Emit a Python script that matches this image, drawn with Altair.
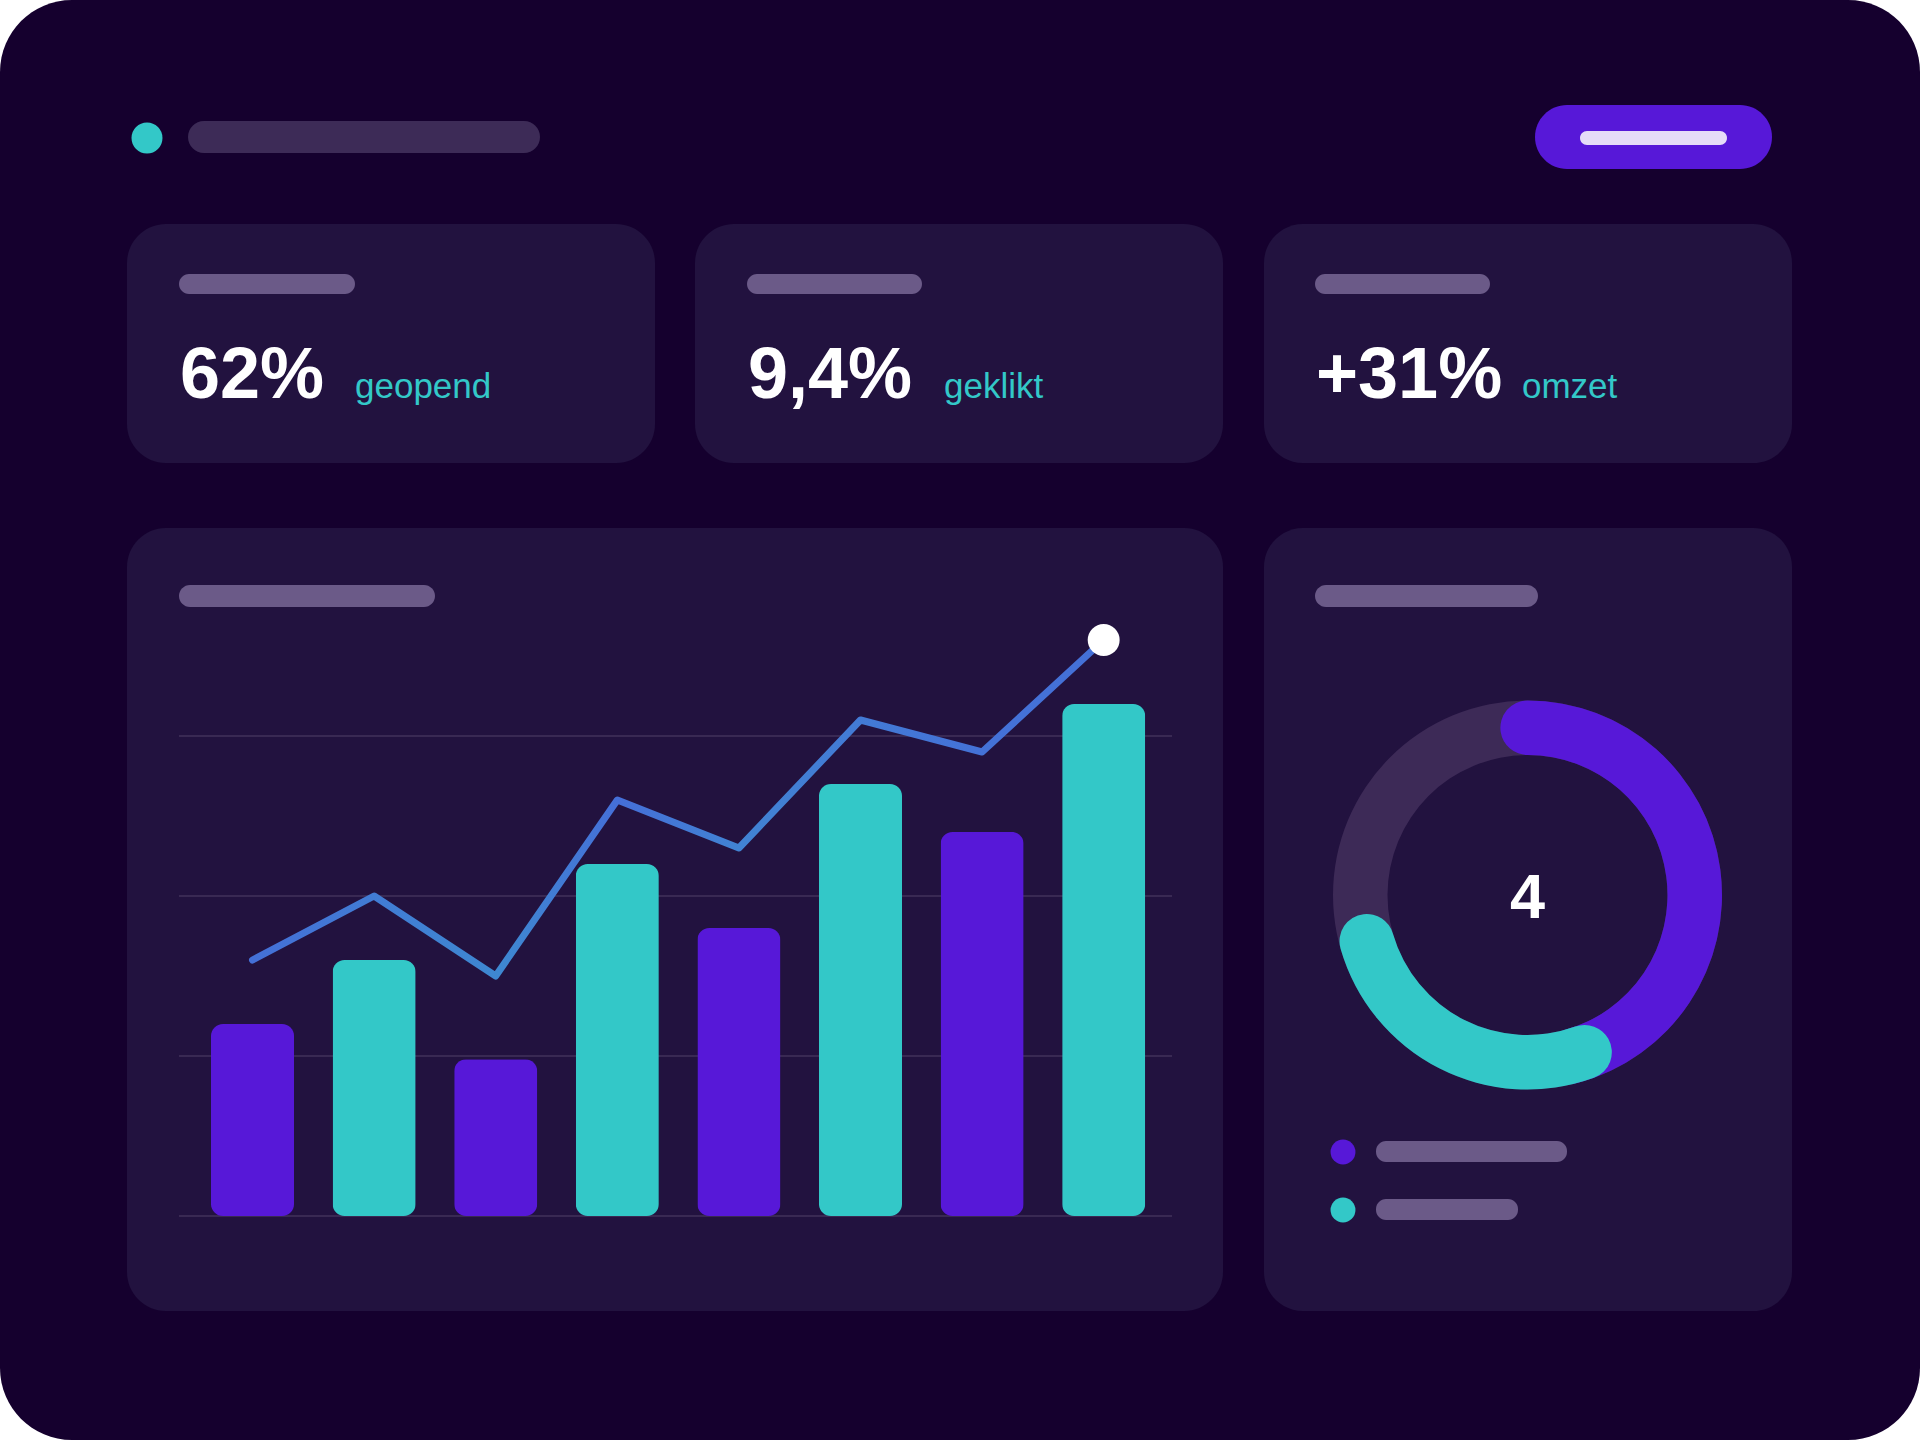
import math
import altair as alt
import pandas as pd

# ---------------- data ----------------
months = ["jan", "feb", "mrt", "apr", "mei", "jun", "jul", "aug"]
bar_values = [12, 16, 9.8, 22, 18, 27, 24, 32]
bar_groups = ["paars", "turquoise", "paars", "turquoise", "paars", "turquoise", "paars", "turquoise"]
line_values = [16, 20, 15, 26, 23, 31, 29, 36]
grid_values = [0, 10, 20, 30]

kpi_values = ["62%", "9,4%", "+31%"]
kpi_labels = ["geopend", "geklikt", "omzet"]

donut_segments = ["paars", "turquoise"]
donut_start_deg = [0, 160]
donut_end_deg = [165, 254]
donut_total = ["4"]

legend_items = ["paars", "turquoise"]

# ---------------- styles ----------------
PAGE_BG = "#15002E"
CARD = "#22123F"
PILL = "#6B5A88"
PILL_DARK = "#3D2B57"
GRID = "#392953"
TEAL = "#33C8C8"
PURPLE = "#5718D8"
RING = "#3D2A57"
BTN_TEXT = "#E6DCF8"
W, H = 1920, 1440

px_x = alt.Scale(domain=[0, W], range=[0, W])
px_y = alt.Scale(domain=[0, H], range=[0, H])
seg_color = alt.Scale(domain=["paars", "turquoise"], range=[PURPLE, TEAL])

# layout (decorative frame, in page pixels)
page = [(0, W, 0, H)]
cards = [(127, 655, 224, 463), (695, 1223, 224, 463), (1264, 1792, 224, 463),
         (127, 1223, 528, 1311), (1264, 1792, 528, 1311)]
title_pill = [(188, 540, 121, 153)]
button = [(1535, 1772, 105, 169)]
button_inner = [(1580, 1727, 131, 145)]
small_pills = [(179, 355, 274, 294), (747, 922, 274, 294), (1315, 1490, 274, 294),
               (1376, 1567, 1141, 1162), (1376, 1518, 1199, 1220)]
chart_pills = [(179, 435, 585, 607), (1315, 1538, 585, 607)]
kpi_x = [180, 748, 1316]
label_x = [355, 944, 1522]
kpi_base = 398
legend_dot_xy = [(1343, 1152), (1343, 1210)]
title_dot_xy = [(147, 138)]
donut_c = (1527.5, 895)
R_OUT, R_IN = 194.5, 140
GRID_X0, GRID_X1 = 179, 1172
x_band = alt.Scale(type="band", domain=months, range=[180.6, 1175.6],
                   paddingInner=0.317, paddingOuter=0.25)
y_val = alt.Scale(domain=[0, 30], range=[1216, 736], zero=False, nice=False)


def rects(rows, color, radius):
    df = pd.DataFrame(rows, columns=["x0", "x1", "y0", "y1"])
    return alt.Chart(df).mark_rect(color=color, cornerRadius=radius).encode(
        x=alt.X("x0:Q", scale=px_x, axis=None), x2="x1:Q",
        y=alt.Y("y0:Q", scale=px_y, axis=None), y2="y1:Q")


def dots(rows, colors, size):
    df = pd.DataFrame(rows, columns=["cx", "cy"])
    df["c"] = colors
    return alt.Chart(df).mark_circle(size=size, opacity=1).encode(
        x=alt.X("cx:Q", scale=px_x, axis=None),
        y=alt.Y("cy:Q", scale=px_y, axis=None),
        color=alt.Color("c:N", scale=seg_color, legend=None))


layers = []
layers.append(rects(page, PAGE_BG, 72))
layers.append(rects(cards, CARD, 39))
layers.append(rects(title_pill, PILL_DARK, 16))
layers.append(rects(button, PURPLE, 32))
layers.append(rects(button_inner, BTN_TEXT, 7))
layers.append(rects(small_pills, PILL, 10))
layers.append(rects(chart_pills, PILL, 11))
layers.append(dots(title_dot_xy, ["turquoise"], 960))
layers.append(dots(legend_dot_xy, legend_items, 620))

# gridlines
grid_df = pd.DataFrame({"g": grid_values})
layers.append(alt.Chart(grid_df).mark_rule(color=GRID, strokeWidth=2).encode(
    x=alt.value(GRID_X0), x2=alt.value(GRID_X1),
    y=alt.Y("g:Q", scale=y_val, axis=None)))

# bars
bar_df = pd.DataFrame({"maand": months, "waarde": bar_values, "groep": bar_groups})
layers.append(alt.Chart(bar_df).mark_bar(cornerRadius=12).encode(
    x=alt.X("maand:N", scale=x_band, axis=None),
    y=alt.Y("waarde:Q", scale=y_val, axis=None),
    color=alt.Color("groep:N", scale=seg_color, legend=None)))

# line
line_df = pd.DataFrame({"maand": months, "waarde": line_values, "idx": list(range(len(months)))})
grad = alt.Gradient(
    gradient="linear", x1=0, x2=1, y1=0, y2=0,
    stops=[alt.GradientStop(color="#4470D7", offset=0),
           alt.GradientStop(color="#3E88D1", offset=0.29),
           alt.GradientStop(color="#456FD8", offset=0.43),
           alt.GradientStop(color="#4183D3", offset=0.57),
           alt.GradientStop(color="#4472D7", offset=0.85),
           alt.GradientStop(color="#4470D7", offset=1)])
layers.append(alt.Chart(line_df).mark_line(
    strokeWidth=7, strokeCap="round", strokeJoin="round", stroke=grad).encode(
    x=alt.X("maand:N", scale=x_band, axis=None, bandPosition=0.5),
    y=alt.Y("waarde:Q", scale=y_val, axis=None),
    order="idx:Q"))
layers.append(alt.Chart(line_df).transform_filter(
    f"datum.idx == {len(months) - 1}").mark_circle(size=1020, color="white", opacity=1).encode(
    x=alt.X("maand:N", scale=x_band, axis=None, bandPosition=0.5),
    y=alt.Y("waarde:Q", scale=y_val, axis=None)))

# donut
cap = ((R_OUT - R_IN) / 2) / ((R_OUT + R_IN) / 2)
ring_df = pd.DataFrame({"cx": [donut_c[0]], "cy": [donut_c[1]]})
layers.append(alt.Chart(ring_df).mark_arc(
    radius=R_OUT, radius2=R_IN, theta=0, theta2=2 * math.pi, color=RING).encode(
    x=alt.X("cx:Q", scale=px_x, axis=None),
    y=alt.Y("cy:Q", scale=px_y, axis=None)))
donut_df = pd.DataFrame({"seg": donut_segments, "start": donut_start_deg, "end": donut_end_deg})
layers.append(alt.Chart(donut_df).transform_calculate(
    t0=f"datum.start * PI / 180 - {cap}",
    t1=f"datum.end * PI / 180 + {cap}",
    cx=f"{donut_c[0]}", cy=f"{donut_c[1]}").mark_arc(
    radius=R_OUT, radius2=R_IN, cornerRadius=(R_OUT - R_IN) / 2).encode(
    theta=alt.Theta("t0:Q", scale=None, stack=None), theta2="t1:Q",
    x=alt.X("cx:Q", scale=px_x, axis=None),
    y=alt.Y("cy:Q", scale=px_y, axis=None),
    color=alt.Color("seg:N", scale=seg_color, legend=None)))
total_df = pd.DataFrame({"t": donut_total, "cx": [donut_c[0]], "cy": [donut_c[1] + 23]})
layers.append(alt.Chart(total_df).mark_text(
    font="Liberation Sans", fontSize=63, fontWeight="bold", color="white",
    align="center", baseline="alphabetic").encode(
    x=alt.X("cx:Q", scale=px_x, axis=None),
    y=alt.Y("cy:Q", scale=px_y, axis=None), text="t:N"))

# KPI texts
kpi_df = pd.DataFrame({"v": kpi_values, "l": kpi_labels, "x": kpi_x, "lx": label_x,
                       "y": [kpi_base] * 3})
layers.append(alt.Chart(kpi_df).mark_text(
    font="Liberation Sans", fontSize=72, fontWeight="bold", color="white",
    align="left", baseline="alphabetic").encode(
    x=alt.X("x:Q", scale=px_x, axis=None),
    y=alt.Y("y:Q", scale=px_y, axis=None), text="v:N"))
layers.append(alt.Chart(kpi_df).mark_text(
    font="Liberation Sans", fontSize=35, color=TEAL,
    align="left", baseline="alphabetic").encode(
    x=alt.X("lx:Q", scale=px_x, axis=None),
    y=alt.Y("y:Q", scale=px_y, axis=None), text="l:N"))

chart = alt.layer(*layers).resolve_scale(
    x="independent", y="independent", color="independent"
).properties(
    width=W, height=H, padding=0, background="white",
    autosize=alt.AutoSizeParams(type="none")
).configure_view(strokeWidth=0)

chart.save("out.html", embed_options={"renderer": "svg", "actions": False})
